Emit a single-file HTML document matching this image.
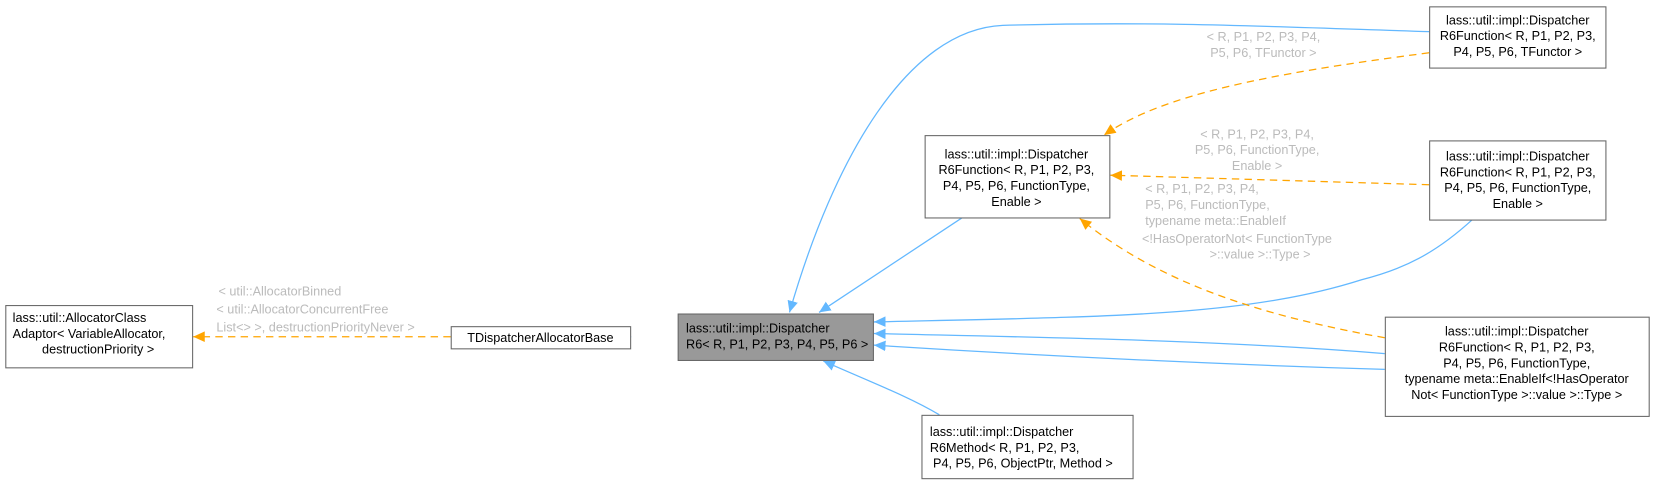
<!DOCTYPE html>
<html><head><style>body{margin:0;background:#fff}svg{display:block}text{font-family:"Liberation Sans",sans-serif;font-size:12px}</style></head><body>
<svg width="1655" height="483" viewBox="0 0 1568 457.6" preserveAspectRatio="none" xmlns="http://www.w3.org/2000/svg">
<defs>
<marker id="b" markerWidth="12" markerHeight="12" refX="11" refY="6" orient="auto" markerUnits="userSpaceOnUse"><path d="M0,1 L11,6 L0,11 Z" fill="#63b8ff"/></marker>
<marker id="o" markerWidth="12" markerHeight="12" refX="11" refY="6" orient="auto" markerUnits="userSpaceOnUse"><path d="M0,1 L11,6 L0,11 Z" fill="#ffa500"/></marker>
</defs>
<g fill="none" stroke="#63b8ff" stroke-width="1.2">
<path d="M427,319 L598,319" marker-end="url(#b)"/>
<path d="M1354,30 C1200,25 1100,20 950,24 C860,28 790,150 748,296" marker-end="url(#b)"/>
<path d="M912,206 L776,296" marker-end="url(#b)"/>
<path d="M1395,208 C1360,240 1330,255 1290,265 C1180,300 1050,300 828,305" marker-end="url(#b)"/>
<path d="M1312,335 C1150,322 1000,320 828,316" marker-end="url(#b)"/>
<path d="M1312,350 C1150,345 1000,338 828,327" marker-end="url(#b)"/>
<path d="M890,393 C860,375 820,360 780,342" marker-end="url(#b)"/>
</g>
<g fill="none" stroke="#ffa500" stroke-width="1.2" stroke-dasharray="7,5">
<path d="M427,319 L183,319" marker-end="url(#o)"/>
<path d="M1354,50 C1200,70 1100,90 1046,128" marker-end="url(#o)"/>
<path d="M1354,175 L1052,166" marker-end="url(#o)"/>
<path d="M1312,320 C1200,300 1100,270 1023,207" marker-end="url(#o)"/>
</g>
<g stroke="#666" stroke-width="1" fill="#fff">
<rect x="5.5" y="289.5" width="177" height="59"/>
<rect x="427.5" y="309.5" width="170" height="21"/>
<rect x="642.5" y="297.5" width="185" height="44" fill="#999"/>
<rect x="876.5" y="128.5" width="175" height="78"/>
<rect x="1354.5" y="6.5" width="167" height="58"/>
<rect x="1354.5" y="133.5" width="167" height="75"/>
<rect x="1312.5" y="300.5" width="250" height="94"/>
<rect x="873.5" y="393.5" width="200" height="60"/>
</g>
<g fill="#000">
<text x="12" y="305">lass::util::AllocatorClass</text>
<text x="12" y="320">Adaptor&lt; VariableAllocator,</text>
<text x="93" y="335" text-anchor="middle">destructionPriority &gt;</text>
<text x="512" y="324" text-anchor="middle">TDispatcherAllocatorBase</text>
<text x="650" y="315">lass::util::impl::Dispatcher</text>
<text x="650" y="330">R6&lt; R, P1, P2, P3, P4, P5, P6 &gt;</text>
<g text-anchor="middle">
<text x="963" y="150">lass::util::impl::Dispatcher</text>
<text x="963" y="165">R6Function&lt; R, P1, P2, P3,</text>
<text x="963" y="180">P4, P5, P6, FunctionType,</text>
<text x="963" y="195">Enable &gt;</text>
<text x="1438" y="23">lass::util::impl::Dispatcher</text>
<text x="1438" y="38">R6Function&lt; R, P1, P2, P3,</text>
<text x="1438" y="53">P4, P5, P6, TFunctor &gt;</text>
<text x="1438" y="152">lass::util::impl::Dispatcher</text>
<text x="1438" y="167">R6Function&lt; R, P1, P2, P3,</text>
<text x="1438" y="182">P4, P5, P6, FunctionType,</text>
<text x="1438" y="197">Enable &gt;</text>
<text x="1437" y="318">lass::util::impl::Dispatcher</text>
<text x="1437" y="333">R6Function&lt; R, P1, P2, P3,</text>
<text x="1437" y="348">P4, P5, P6, FunctionType,</text>
<text x="1437" y="363">typename meta::EnableIf&lt;!HasOperator</text>
<text x="1437" y="378">Not&lt; FunctionType &gt;::value &gt;::Type &gt;</text>
</g>
<text x="881" y="413">lass::util::impl::Dispatcher</text>
<text x="881" y="428">R6Method&lt; R, P1, P2, P3,</text>
<text x="884" y="443">P4, P5, P6, ObjectPtr, Method &gt;</text>
</g>
<g fill="#bbb">
<text x="207" y="280">&lt; util::AllocatorBinned</text>
<text x="205" y="297">&lt; util::AllocatorConcurrentFree</text>
<text x="205" y="314">List&lt;&gt; &gt;, destructionPriorityNever &gt;</text>
<g text-anchor="middle">
<text x="1197" y="39">&lt; R, P1, P2, P3, P4,</text>
<text x="1197" y="54">P5, P6, TFunctor &gt;</text>
<text x="1191" y="131">&lt; R, P1, P2, P3, P4,</text>
<text x="1191" y="146">P5, P6, FunctionType,</text>
<text x="1191" y="161">Enable &gt;</text>
</g>
<text x="1085" y="183">&lt; R, P1, P2, P3, P4,</text>
<text x="1085" y="198">P5, P6, FunctionType,</text>
<text x="1085" y="213">typename meta::EnableIf</text>
<text x="1082" y="230">&lt;!HasOperatorNot&lt; FunctionType</text>
<text x="1146" y="245">&gt;::value &gt;::Type &gt;</text>
</g>
</svg>
</body></html>
